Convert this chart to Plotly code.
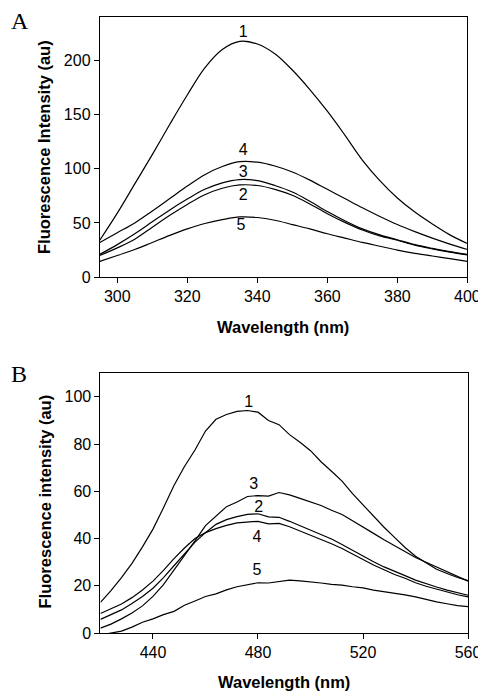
import plotly.graph_objects as go

# ---------------- Panel A data ----------------
wl_a = [295, 300, 305, 310, 315, 320, 325, 330, 335, 340, 345, 350,
        355, 360, 365, 370, 375, 380, 385, 390, 395, 400]
a1 = [34, 59, 86, 113, 141, 168, 193, 210, 217.5, 215, 206, 191,
      173, 153, 131, 108, 89, 73, 60, 49, 39, 31]
a2 = [20, 27, 35, 46, 57, 67, 76, 82, 85, 84.5, 81, 75.5,
      67.5, 58.5, 50.5, 43.5, 38, 34, 29.5, 26, 23, 20.5]
a3 = [21, 30, 40, 51, 62, 72, 81, 87, 90, 89, 84.5, 78.5,
      70, 60.5, 52, 44.5, 39, 34.5, 30, 26.5, 23.5, 21]
a4 = [32, 41, 50, 61, 72.5, 84, 94.5, 102, 106.5, 106, 102.5, 97,
      89.5, 81, 72.5, 64, 56, 48.5, 42, 36, 30.5, 25.5]
a5 = [14.5, 20, 25.5, 32, 38.5, 44.5, 49.5, 53, 55.5, 55, 52.5, 48.5,
      44.5, 40, 36, 32, 28.5, 25, 22, 19.5, 17, 14.5]
labels_a = ["1", "2", "3", "4", "5"]
lab_a_x = [336, 336, 336, 336, 335.3]
lab_a_y = [225, 75, 96, 116, 47]
xticks_a = [300, 320, 340, 360, 380, 400]
yticks_a = [0, 50, 100, 150, 200]

# ---------------- Panel B data ----------------
wl_b = [420, 424, 428, 432, 436, 440, 444, 448, 452, 456, 460, 464,
        468, 472, 476, 480, 484, 488, 492, 496, 500, 504, 508, 512,
        516, 520, 524, 528, 532, 536, 540, 544, 548, 552, 556, 560]
b1 = [13, 18, 23.5, 29.5, 36.5, 44, 53, 62.5, 70.5, 77.5, 85.5, 90.5,
      92.5, 93.8, 94.2, 93.5, 90, 88.2, 84, 80.8, 77.2, 72.5, 68.5, 64.3,
      59, 54.2, 49.5, 44.8, 40.5, 36.2, 32.5, 29.8, 27, 25.2, 23.5, 22.2]
b2 = [5.8, 7.8, 9.8, 12.5, 15.5, 19, 23.5, 28.5, 33.5, 38.5, 42.5, 46,
      48, 49.3, 50.2, 50.5, 49.2, 49, 47.3, 45.5, 43.5, 41.6, 39.8, 37.5,
      35, 32.5, 30.2, 28, 26, 24.3, 22.4, 20.8, 19.5, 18.2, 17, 16]
b3 = [2.1, 3.8, 6, 8.5, 11.5, 15.5, 20.5, 26.5, 32.5, 39, 45.5, 49.5,
      53.5, 55.5, 57.8, 58.2, 58, 59.5, 58.5, 57, 55.5, 54, 52, 50.2,
      47.5, 45, 42.2, 39.5, 37, 34.2, 32, 30, 28, 26, 24, 22]
b4 = [8.3, 10.2, 12.3, 15, 18.2, 22, 26.5, 31.5, 36, 40, 42.5, 44.2,
      45.6, 46.6, 46.8, 47.3, 46.2, 46.4, 45, 43.2, 41.5, 39.8, 37.8, 35.8,
      33.4, 31, 28.8, 26.8, 24.8, 23.2, 21.3, 19.8, 18.5, 17.3, 16.2, 15.3]
b5 = [-0.8, 0, 0.8, 2.5, 4.6, 6, 7.8, 9.2, 11.8, 13.6, 15.5, 16.6,
      18.3, 19.6, 20.6, 21.3, 21.2, 21.8, 22.4, 22.1, 21.8, 21.2, 20.6, 20.3,
      19.6, 19.1, 18.2, 17.6, 16.8, 16.2, 15.3, 14.2, 13.2, 12.4, 11.6, 11.2]
labels_b = ["1", "2", "3", "4", "5"]
lab_b_x = [476.5, 480.3, 478.4, 479.6, 479.6]
lab_b_y = [97.2, 52.8, 62.8, 40.3, 26.4]
xticks_b = [440, 480, 520, 560]
yticks_b = [0, 20, 40, 60, 80, 100]

W, H = 486, 692
FONT = "Liberation Sans, Arial, sans-serif"
SERIF = "Liberation Serif, Times New Roman, serif"

fig = go.Figure()
line = dict(color="black", width=1.2)
for ys in [a1, a2, a3, a4, a5]:
    fig.add_trace(go.Scatter(x=wl_a, y=ys, mode="lines",
                             line=dict(shape="spline", smoothing=1, **line),
                             xaxis="x", yaxis="y", showlegend=False, hoverinfo="skip"))
for ys in [b1, b2, b3, b4, b5]:
    fig.add_trace(go.Scatter(x=wl_b, y=ys, mode="lines", line=line,
                             xaxis="x2", yaxis="y2", showlegend=False, hoverinfo="skip"))

fig.add_trace(go.Scatter(x=lab_a_x, y=lab_a_y, text=labels_a, mode="text",
                         textfont=dict(family=FONT, size=16, color="black"),
                         xaxis="x", yaxis="y", showlegend=False, hoverinfo="skip"))
fig.add_trace(go.Scatter(x=lab_b_x, y=lab_b_y, text=labels_b, mode="text",
                         textfont=dict(family=FONT, size=16, color="black"),
                         xaxis="x2", yaxis="y2", showlegend=False, hoverinfo="skip"))


def px_x(p):
    return p / W


def px_y(p):
    return 1 - p / H


axis_common = dict(showline=True, linecolor="black", linewidth=1, mirror=True,
                   ticks="outside", ticklen=5, tickwidth=1, tickcolor="black",
                   showgrid=False, zeroline=False,
                   tickfont=dict(family=FONT, size=16, color="black"))

fig.update_layout(
    width=W, height=H,
    margin=dict(l=0, r=0, t=0, b=0),
    paper_bgcolor="white", plot_bgcolor="white",
    xaxis=dict(domain=[px_x(94.3), px_x(472)], range=[295, 400], tickvals=xticks_a,
               anchor="y", **axis_common),
    yaxis=dict(domain=[px_y(272.7), px_y(9)], range=[0, 240], tickvals=yticks_a,
               anchor="x", **axis_common),
    xaxis2=dict(domain=[px_x(95), px_x(472.7)], range=[420, 560], tickvals=xticks_b,
                anchor="y2", **axis_common),
    yaxis2=dict(domain=[px_y(633.3), px_y(370)], range=[0, 110], tickvals=yticks_b,
                anchor="x2", **axis_common),
)

ann = []


def add_text(text, x, y, size, bold=False, angle=0, family=FONT):
    ann.append(dict(text=("<b>%s</b>" % text) if bold else text,
                    x=px_x(x), y=px_y(y), xref="paper", yref="paper",
                    xanchor="center", yanchor="middle", showarrow=False,
                    textangle=angle, font=dict(family=family, size=size, color="black")))


add_text("Fluorescence Intensity (au)", 37, 140.8, 16.5, bold=True, angle=-90)
add_text("Wavelength (nm)", 283, 323, 16.5, bold=True)
add_text("Fluorescence intensity (au)", 39, 500, 16.5, bold=True, angle=-90)
add_text("Wavelength (nm)", 284, 683, 16.5, bold=True)
add_text("A", 12, 13, 24, family=SERIF)
add_text("B", 11.5, 371, 24, family=SERIF)
fig.update_layout(annotations=ann)

fig.write_html("out.html")
